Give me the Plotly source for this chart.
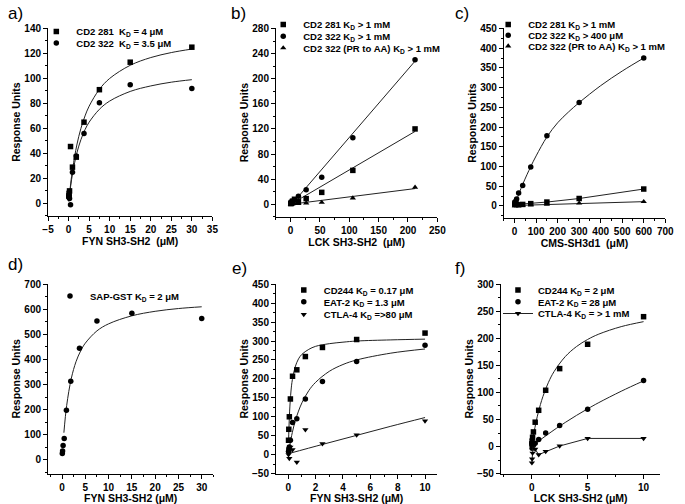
import plotly.graph_objects as go

# ---- a) FYN SH3-SH2 binding to CD2 peptides
a_conc = [30, 15, 7.5, 3.75, 1.875, 0.94, 0.47, 0.23, 0.12, 0.06]
a_cd2_281 = [125, 113, 91, 65, 37, 29, 45.5, 10, 8, 6]
a_cd2_322 = [92, 95, 80.5, 56, 38, 25, -1, 4, 6, 5]
a_fit_x = [0.05, 0.5, 1, 2, 3, 4, 5, 7.5, 10, 15, 20, 25, 30]
a_fit_281 = [1.7, 15.6, 28, 46.7, 60, 70, 77.8, 91.3, 100, 110.5, 116.7, 120.7, 123.5]
a_fit_322 = [1.6, 13.8, 24.6, 40.2, 51, 59, 65, 75.3, 81.9, 89.6, 94, 97, 99]

# ---- b) LCK SH3-SH2
b_conc = [212, 106, 53, 26.5, 13.25, 6.6, 3.3, 1.65, 0.83, 0.41]
b_cd2_281 = [120, 54, 19, 9, 4, 8, 5, 3, 2, 1]
b_cd2_322 = [230, 106, 43, 23, 13, 7, 5, 4, 3, 2]
b_pr_aa = [27, 10, 3, 2, 1, 1, 0.5, 0, 0, 0]
b_fit_x = [0, 212]
b_fit_281 = [0, 116]
b_fit_322 = [-2, 228]
b_fit_pr = [0, 25]

# ---- c) CMS-SH3d1
c_conc = [600, 300, 150, 75, 37.5, 18.75, 9.4, 4.7, 2.3, 1.2]
c_cd2_281 = [43, 19, 10, 6, 4, 3, 4, 6, 8, 5]
c_cd2_322 = [375, 262, 178, 99, 52, 33, 18, 12, 7, 4]
c_pr_aa = [11, 7, 4, 3, 2, 1.5, 1, 1, 0.5, 0]
c_fit_x = [0, 20, 40, 75, 100, 150, 200, 250, 300, 400, 500, 600]
c_fit_322 = [0, 31, 58, 100, 127, 175, 211, 238, 262, 305, 342, 375]

# ---- d) FYN SH3-SH2 binding SAP-GST
d_conc = [30, 15, 7.5, 3.75, 1.875, 0.94, 0.47, 0.23, 0.12, 0.06]
d_sap = [563, 584, 553, 445, 313, 198, 85, 57, 35, 25]
d_fit_x = [0.4, 1, 2, 3, 4, 5, 7.5, 10, 15, 20, 25, 30]
d_fit_sap = [108, 217, 325, 391, 434, 465, 514, 542, 574, 592, 603, 610]

# ---- e) FYN SH3-SH2
e_conc = [10, 5, 2.5, 1.25, 0.625, 0.3125, 0.156, 0.078, 0.039, 0.0195]
e_cd244 = [321, 304, 283, 259, 224, 207, 147, 100, 67, 38]
e_eat2 = [289, 246, 193, 147, 95, 85, 38, 20, 15, 8]
e_ctla4 = [89, 52, 29, 66, -20, 13, 20, -10, 5, 0]
e_fit_x = [0.02, 0.05, 0.1, 0.2, 0.3, 0.5, 0.75, 1, 1.5, 2, 3, 4, 5, 7.5, 10]
e_fit_cd244 = [33, 70, 115, 168, 198, 231, 253, 265, 278, 286, 293, 297, 300, 303, 305]
e_fit_eat2 = [5, 11, 22, 42, 59, 88, 115, 137, 169, 191, 220, 238, 250, 268, 279]
e_fit_ctla_x = [0.05, 2.5, 5, 7.5, 10]
e_fit_ctla4 = [3, 27, 51, 75, 98]

# ---- f) LCK SH3-SH2
f_conc = [10, 5, 2.5, 1.25, 0.625, 0.3125, 0.156, 0.078, 0.039, 0.0195]
f_cd244 = [240, 189, 144, 104, 67, 45, 27, 17, 10, 5]
f_eat2 = [122, 69, 39, 25, 13, 6, 3, 0, -3, 5]
f_ctla4 = [15, 15, 1, -9, -15, -5, 3, -12, -23, -30]
f_fit_x = [0.02, 0.1, 0.2, 0.4, 0.6, 1, 1.5, 2, 3, 4, 5, 6, 8, 10]
f_fit_cd244 = [2.7, 13.2, 25.2, 46.2, 63.9, 92.3, 118.7, 138.5, 166.2, 184.7, 197.9, 207.8, 221.6, 230.8]
f_fit_eat2 = [0.3, 1.6, 3.3, 6.5, 9.7, 15.9, 23.4, 30.7, 44.5, 57.5, 69.7, 81.2, 102.2, 121.4]

W, H = 685, 504
FONT = "Liberation Sans"
SP2 = " \u00a0"  # the double gaps used in the original labels


def px_x(p):
    return p / W


def px_y(p):
    return 1 - p / H


# panel layout: (label, x px span, y px span, x range, y range, x dtick, y dtick, x title)
panels = [
    ("a)", (43, 211), (23, 215), [-5, 35], [-10, 140], 5, 20, "FYN SH3-SH2" + SP2 + "(μM)"),
    ("b)", (276, 441), (23, 216), [-25, 250], [-20, 280], 50, 40, "LCK SH3-SH2" + SP2 + "(μM)"),
    ("c)", (509, 674), (23, 217), [-50, 700], [-30, 450], 100, 50, "CMS-SH3d1" + SP2 + "(μM)"),
    ("d)", (43, 212), (285, 479), [-3, 32.5], [-55, 700], 5, 100, "FYN SH3-SH2 (μM)"),
    ("e)", (276, 441), (285, 479), [-0.9, 10.9], [-50, 450], 2, 50, "FYN SH3-SH2 (μM)"),
    ("f)", (506, 669), (285, 479), [-2.75, 11.5], [-50, 300], 5, 50, "LCK SH3-SH2 (μM)"),
]
label_pos = [(0, 8), (228, 8), (457, 8), (0, 265), (229, 269), (457, 269)]

fig = go.Figure()
bold = dict(family=FONT, size=10, color="black", weight="bold")

for i, (lab, xs, ys, xr, yr, xd, yd, xt) in enumerate(panels):
    n = "" if i == 0 else str(i + 1)
    common = dict(showline=True, linecolor="black", linewidth=1, ticks="outside",
                  ticklen=4, tickwidth=1, tickcolor="black", showgrid=False,
                  zeroline=False, tick0=0, tickfont=bold)
    fig.update_layout({
        "xaxis" + n: dict(common, domain=[px_x(xs[0]), px_x(xs[1])], range=xr,
                           dtick=xd, anchor="y" + n,
                           minor=dict(ticks="outside", ticklen=2, dtick=xd / 2,
                                      tick0=0, tickcolor="black"),
                           title=dict(text=xt, font=dict(bold, size=10.5),
                                      standoff=1 if i < 3 else 0)),
        "yaxis" + n: dict(common, domain=[px_y(ys[1]), px_y(ys[0])], range=yr,
                           dtick=yd, anchor="x" + n,
                           minor=dict(ticks="outside", ticklen=2, dtick=yd / 2,
                                      tick0=0, tickcolor="black"),
                           title=dict(text="Response Units", font=dict(bold, size=10.5),
                                      standoff=1)),
    })
    lx, ly = label_pos[i]
    fig.add_annotation(text=lab, x=px_x(lx), y=px_y(ly), xref="paper", yref="paper",
                       xanchor="left", yanchor="middle", showarrow=False,
                       font=dict(family=FONT, size=17, color="black"))

legend_count = [0]


def axes(i):
    n = "" if i == 0 else str(i + 1)
    return "x" + n, "y" + n


def points(i, x, y, symbol, name, text_px, mode="markers"):
    legend_count[0] += 1
    k = legend_count[0]
    lid = "legend" if k == 1 else "legend%d" % k
    xa, ya = axes(i)
    fig.add_trace(go.Scatter(x=x, y=y, mode=mode, name=name, xaxis=xa, yaxis=ya,
                             marker=dict(symbol=symbol, size=5.5, color="black"),
                             line=dict(color="#222", width=1), legend=lid,
                             cliponaxis=False))
    dy = 4 if i < 3 else 2
    fig.update_layout({lid: dict(x=px_x(text_px[0] - 42), y=px_y(text_px[1] - dy),
                                 xanchor="left", yanchor="middle",
                                 bgcolor="rgba(0,0,0,0)", borderwidth=0,
                                 font=dict(bold, size=9.5))})


def curve(i, x, y, shape="spline"):
    xa, ya = axes(i)
    fig.add_trace(go.Scatter(x=x, y=y, mode="lines", showlegend=False, xaxis=xa, yaxis=ya,
                             line=dict(color="#222", width=1, shape=shape),
                             hoverinfo="skip"))


KD = "K<sub>D</sub>"

# a
curve(0, a_fit_x, a_fit_281)
curve(0, a_fit_x, a_fit_322)
points(0, a_conc, a_cd2_281, "square", "CD2 281" + SP2 + KD + " = 4 μM", (73, 30))
points(0, a_conc, a_cd2_322, "circle", "CD2 322" + SP2 + KD + " = 3.5 μM", (73, 42))

# b
curve(1, b_fit_x, b_fit_281, "linear")
curve(1, b_fit_x, b_fit_322, "linear")
curve(1, b_fit_x, b_fit_pr, "linear")
points(1, b_conc, b_cd2_281, "square", "CD2 281 " + KD + " > 1 mM", (305, 23))
points(1, b_conc, b_cd2_322, "circle", "CD2 322 " + KD + " > 1 mM", (305, 35))
points(1, b_conc, b_pr_aa, "triangle-up", "CD2 322 (PR to AA) " + KD + " > 1 mM", (305, 47))

# c
curve(2, c_fit_x, c_fit_322)
curve(2, c_conc, c_cd2_281, "linear")
curve(2, c_conc, c_pr_aa, "linear")
points(2, c_conc, c_cd2_281, "square", "CD2 281 " + KD + " > 1 mM", (535, 23))
points(2, c_conc, c_cd2_322, "circle", "CD2 322 " + KD + " > 400 μM", (535, 34))
points(2, c_conc, c_pr_aa, "triangle-up", "CD2 322 (PR to AA) " + KD + " > 1 mM", (535, 45))

# d
curve(3, d_fit_x, d_fit_sap)
points(3, d_conc, d_sap, "circle", "SAP-GST " + KD + " = 2 μM", (87, 299))

# e
curve(4, e_fit_x, e_fit_cd244)
curve(4, e_fit_x, e_fit_eat2)
curve(4, e_fit_ctla_x, e_fit_ctla4)
points(4, e_conc, e_cd244, "square", "CD244 " + KD + " = 0.17 μM", (326, 293))
points(4, e_conc, e_eat2, "circle", "EAT-2 " + KD + " = 1.3 μM", (326, 305))
points(4, e_conc, e_ctla4, "triangle-down", "CTLA-4 " + KD + " =>80 μM", (326, 318))

# f
curve(5, f_fit_x, f_fit_cd244)
curve(5, f_fit_x, f_fit_eat2)
points(5, f_conc, f_cd244, "square", "CD244 " + KD + " = 2 μM", (545, 293))
points(5, f_conc, f_eat2, "circle", "EAT-2 " + KD + " = 28 μM", (545, 305))
points(5, f_conc, f_ctla4, "triangle-down", "CTLA-4 " + KD + " = > 1 mM", (545, 317),
       mode="lines+markers")

fig.update_layout(width=W, height=H, margin=dict(l=0, r=0, t=0, b=0),
                  paper_bgcolor="white", plot_bgcolor="white",
                  font=dict(family=FONT, color="black"))

# the page body has a default 8px margin; drop it so the figure fills the window
fig.write_html("out.html", config={"displayModeBar": False},
               post_script="document.body.style.margin='0px';")
